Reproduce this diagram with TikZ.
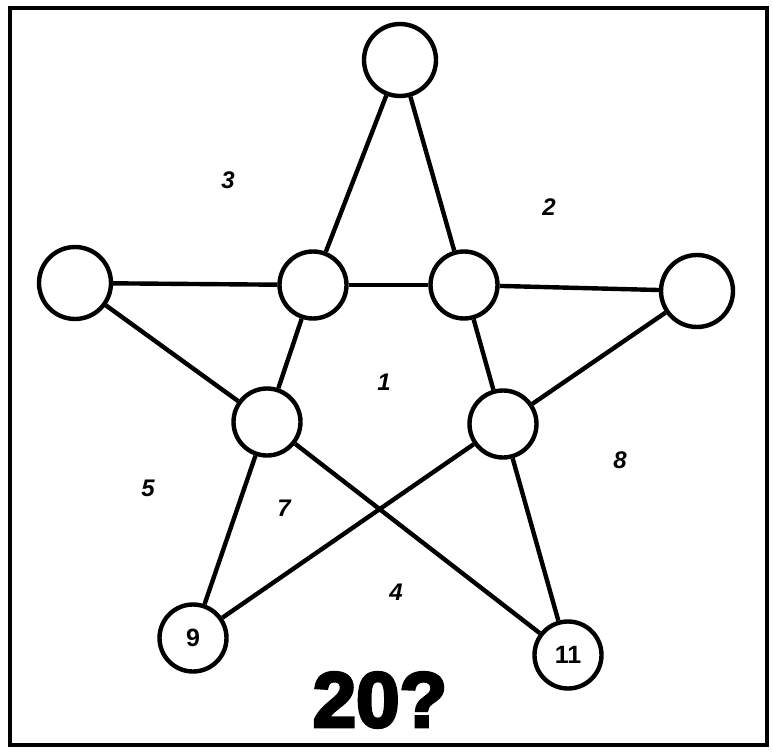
\documentclass[tikz,border=0pt]{standalone}
\usepackage{fontspec}
\setmainfont{Liberation Sans}
\newfontfamily\heavyfont[FakeBold=4]{Liberation Sans Bold}
\usepackage{tikz}
\usetikzlibrary{
  arrows.meta,
  calc,
  positioning
}
\tikzset{
  spot/.style={circle,draw,line width=4.4pt,minimum size=72pt,inner sep=0pt,
    font=\fontsize{25}{25}\selectfont\bfseries},
  small spot/.style={spot,minimum size=67pt},
  edge/.style={line width=4.4pt},
  region/.style={font=\fontsize{24}{24}\selectfont\bfseries\itshape}
}

\begin{document}
\begin{tikzpicture}[x=1pt,y=-1pt]
  \useasboundingbox (0,0) rectangle (773,754);
  \draw[line width=3.2pt] (10,8) rectangle (767,745);
  % outer points and inner pentagon
  \node[spot] (top)   at (400,60)  {};
  \node[spot] (left)  at (75,283)  {};
  \node[spot] (right) at (697,291) {};
  \node[small spot] (ul) at (313,285) {};
  \node[small spot] (ur) at (464,285) {};
  \node[small spot] (ll) at (267,422) {};
  \node[small spot] (lr) at (503,424) {};
  \node[small spot] (nine)   at (193,638) {9};
  \node[small spot] (eleven) at (568,655) {11};
  \foreach \a/\b in {top/ul,top/ur,left/ul,ul/ur,ur/right,left/ll,ul/ll,ur/lr,
                     right/lr,ll/nine,lr/eleven,ll/eleven,lr/nine}{
    \draw[edge] (\a) -- (\b);
  }
  % region numbers
  \foreach \x/\y/\lab in {228/180/3,549/207/2,384/382/1,148/488/5,
                          284/508/7,620/460/8,396/592/4}{
    \node[region] (r\lab) at (\x,\y) {\lab};
  }
  \node[font=\heavyfont\fontsize{78}{78}\selectfont] (sum) at (380,700) {20?};
\end{tikzpicture}
\end{document}
